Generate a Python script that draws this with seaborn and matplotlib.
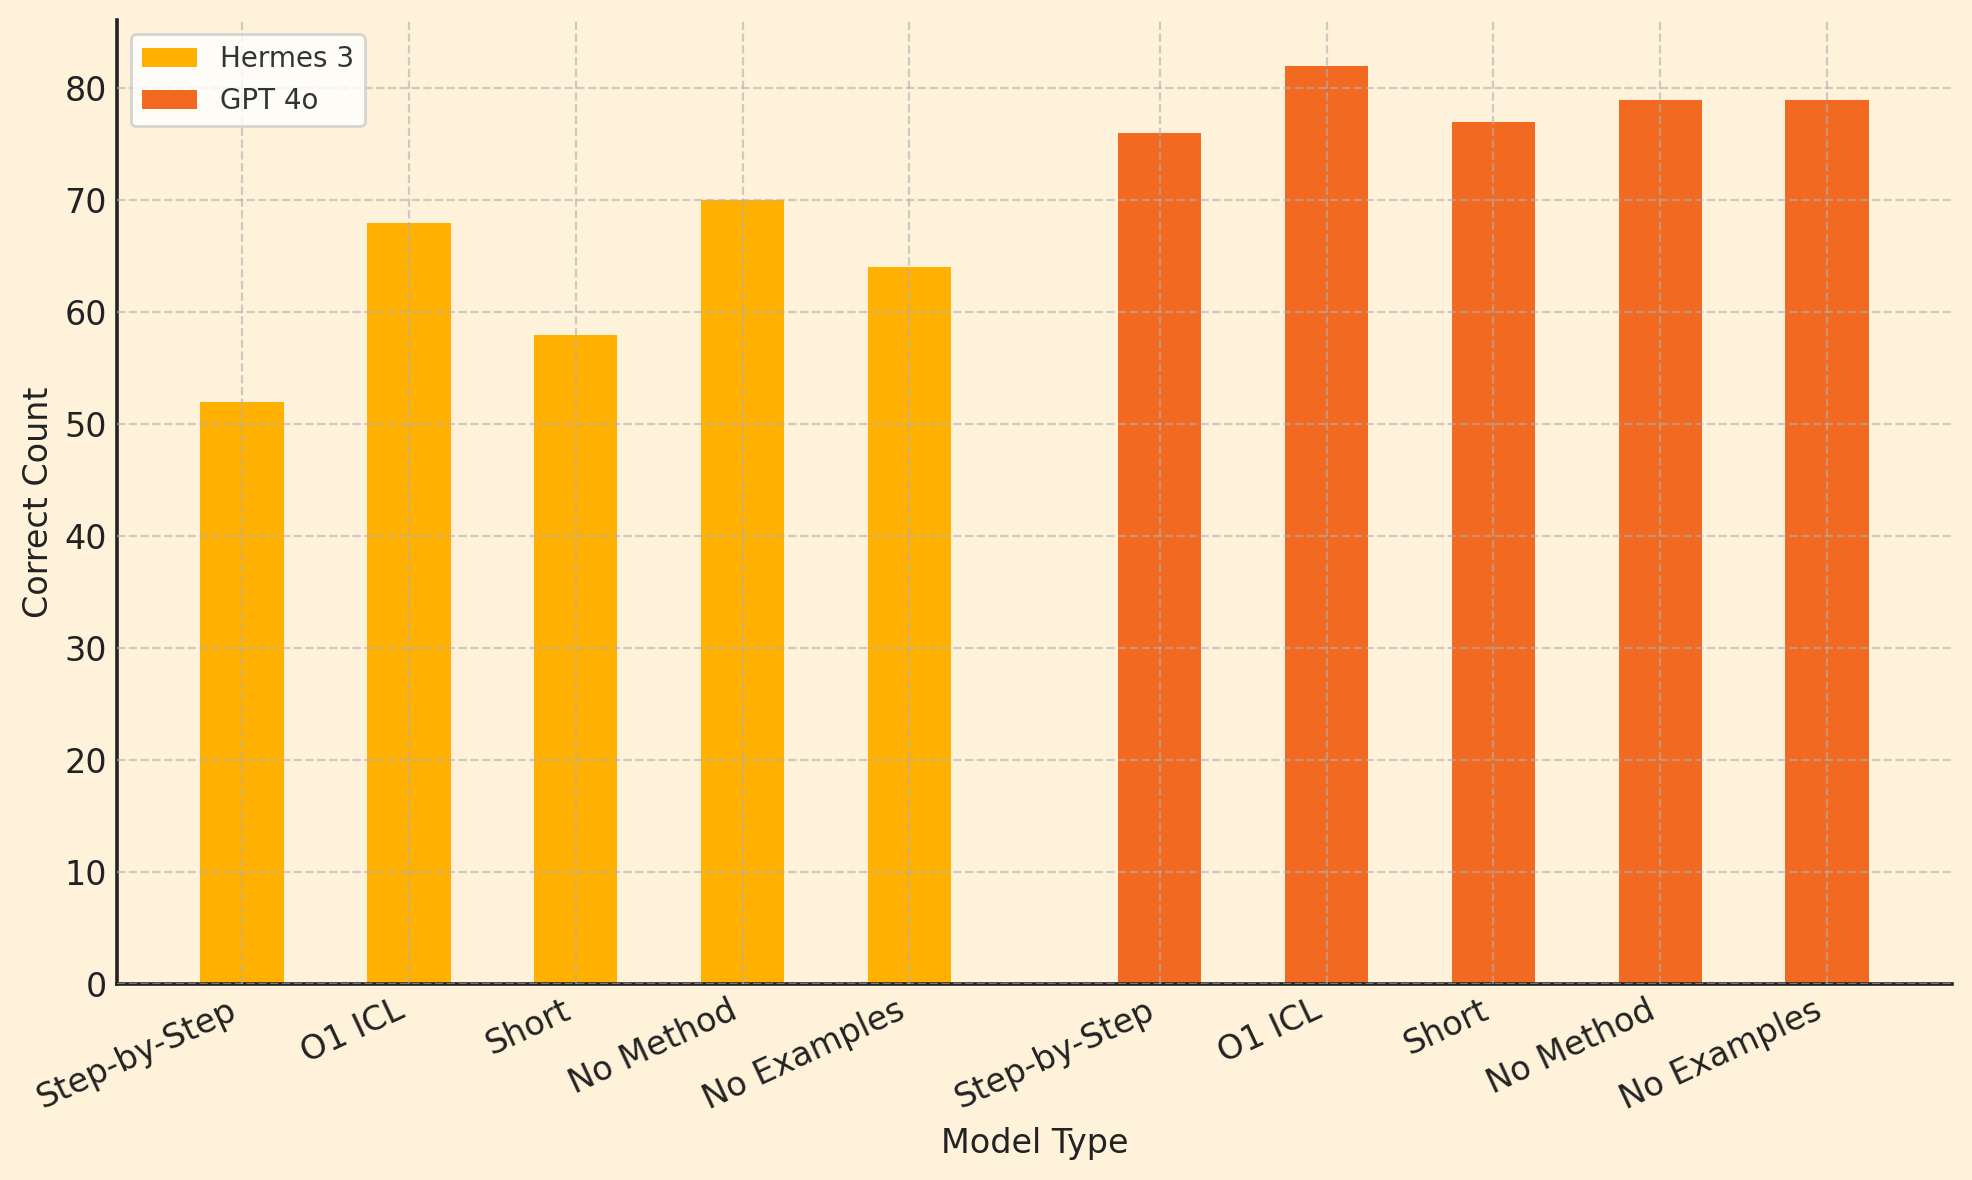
import matplotlib
matplotlib.use("Agg")
import matplotlib.pyplot as plt
import seaborn as sns
import pandas as pd

methods = ["Step-by-Step", "O1 ICL", "Short", "No Method", "No Examples"]
models = ["Hermes 3", "GPT 4o"]
hermes_counts = [52, 68, 58, 70, 64]
gpt_counts = [76, 82, 77, 79, 79]

colors = {"Hermes 3": "#FFB000", "GPT 4o": "#F26A21"}
bg = "#FEF2DA"

sns.set_theme(style="white")
plt.rcParams["font.family"] = ["DejaVu Sans"]

positions = [i for i in range(len(methods))] + [i + len(methods) + 0.5 for i in range(len(methods))]
df = pd.DataFrame({
    "pos": positions,
    "count": hermes_counts + gpt_counts,
    "model": [models[0]] * len(methods) + [models[1]] * len(methods),
    "label": methods + methods,
})

fig, ax = plt.subplots(figsize=(9.86, 5.9), dpi=200)
fig.patch.set_facecolor(bg)
ax.set_facecolor(bg)

sns.barplot(data=df, x="pos", y="count", hue="model", native_scale=True,
            width=0.5, dodge=False, palette=colors, ax=ax, legend=True,
            saturation=1, linewidth=0)

ax.set_axisbelow(False)
ax.grid(True, linestyle="--", color="#b0b0b0", alpha=0.6, linewidth=0.8)
ax.set_xticks(df["pos"])
ax.set_xticklabels(df["label"], rotation=25, ha="right", fontsize=12, color="#222222")
ax.tick_params(axis="y", labelsize=12, colors="#222222")
ax.tick_params(axis="both", which="major", length=5, width=1, color="#222222",
               direction="in", pad=3.5)
for s in ["top", "right"]:
    ax.spines[s].set_visible(False)
for s in ["left", "bottom"]:
    ax.spines[s].set_color("#222222")
    ax.spines[s].set_linewidth(1.3)

ax.set_xlim(-0.75, 10.25)
ax.set_ylim(0, 86.1)
ax.set_xlabel("Model Type", fontsize=12, color="#222222")
ax.set_ylabel("Correct Count", fontsize=12, color="#222222", labelpad=3.3)

leg = ax.legend(loc="upper left", fontsize=10, frameon=True, facecolor="white",
                edgecolor="#cccccc", framealpha=0.8)
for t in leg.get_texts():
    t.set_color("#333333")

fig.subplots_adjust(left=0.0593, right=0.990, top=0.983, bottom=0.1663)
fig.savefig("out.png", dpi=200, facecolor=bg)
